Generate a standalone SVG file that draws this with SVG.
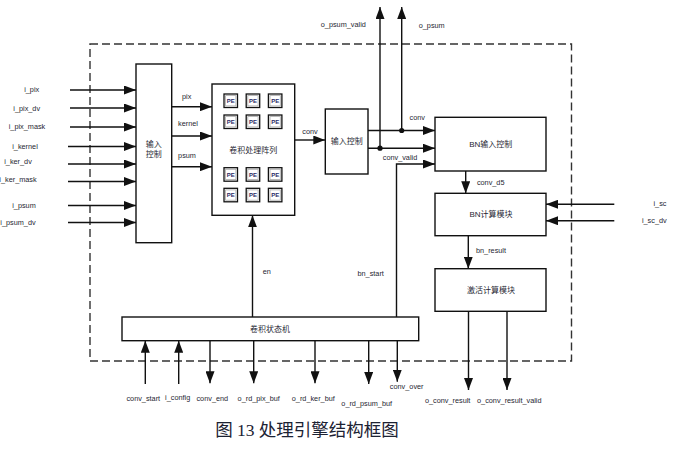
<svg xmlns="http://www.w3.org/2000/svg" width="680" height="450" viewBox="0 0 680 450">
<style>
  text { font-family: "Liberation Sans", "Noto Sans CJK SC", sans-serif; fill: #1f1f33; dominant-baseline: central; text-anchor: middle; }
  .lbl { font-size: 7.3px; }
  .cn { font-size: 8px; }
  .pe { font-size: 6px; font-weight: bold; fill: #2a2a66; }
  .box { fill: #fff; stroke: #111; stroke-width: 1.4; }
  .pebox { fill: #fff; stroke: #111; stroke-width: 1.3; }
  .pein { fill: none; stroke: #aaa; stroke-width: 0.8; }
  .ln { fill: none; stroke: #111; stroke-width: 1.4; }
  .arr { fill: none; stroke: #111; stroke-width: 1.4; marker-end: url(#ah); }
  .dash { fill: none; stroke: #333; stroke-width: 1.4; stroke-dasharray: 8 4; }
  .cap { font-family: "Liberation Serif", "Noto Sans CJK SC", serif; font-size: 17.5px; fill: #1c2233; }
</style>
<defs>
  <marker id="ah" markerUnits="userSpaceOnUse" markerWidth="12" markerHeight="9" refX="12" refY="4.5" orient="auto">
    <path d="M0,0 L12,4.5 L0,9 z" fill="#111"/>
  </marker>
</defs>
<rect width="680" height="450" fill="#fff"/>

<rect class="dash" x="90" y="44" width="481.5" height="317"/>

<g id="connectors">
  <!-- external inputs to input control -->
  <line class="arr" x1="70" y1="90" x2="136" y2="90"/>
  <line class="arr" x1="70" y1="108" x2="136" y2="108"/>
  <line class="arr" x1="70" y1="127" x2="136" y2="127"/>
  <line class="arr" x1="68" y1="146.5" x2="136" y2="146.5"/>
  <line class="arr" x1="68" y1="164" x2="136" y2="164"/>
  <line class="arr" x1="68" y1="181.5" x2="136" y2="181.5"/>
  <line class="arr" x1="68" y1="205.5" x2="136" y2="205.5"/>
  <line class="arr" x1="68" y1="222.5" x2="136" y2="222.5"/>
  <!-- input control to PE array -->
  <line class="arr" x1="171.7" y1="106.7" x2="212" y2="106.7"/>
  <line class="arr" x1="171.7" y1="136" x2="212" y2="136"/>
  <line class="arr" x1="171.7" y1="166.7" x2="212" y2="166.7"/>
  <!-- PE array to box2 -->
  <line class="arr" x1="294.7" y1="140" x2="325.3" y2="140"/>
  <!-- box2 to BN input -->
  <line class="arr" x1="368" y1="130.5" x2="435" y2="130.5"/>
  <line class="arr" x1="368" y1="148.2" x2="435" y2="148.2"/>
  <line class="arr" x1="401.7" y1="130.5" x2="401.7" y2="7"/>
  <line class="arr" x1="380" y1="148.2" x2="380" y2="7"/>
  <circle cx="401.7" cy="130.5" r="2.6" fill="#111"/>
  <circle cx="380" cy="148.2" r="2.6" fill="#111"/>
  <!-- bn_start -->
  <polyline class="arr" points="396.5,317 396.5,164 435,164"/>
  <!-- BN chain -->
  <line class="arr" x1="465.7" y1="171" x2="465.7" y2="193.3"/>
  <line class="arr" x1="468.3" y1="235.7" x2="468.3" y2="268.7"/>
  <line class="arr" x1="614.3" y1="204.3" x2="546" y2="204.3"/>
  <line class="arr" x1="614.3" y1="220.7" x2="546" y2="220.7"/>
  <line class="arr" x1="468.5" y1="311.3" x2="468.5" y2="390"/>
  <line class="arr" x1="507" y1="311.3" x2="507" y2="390"/>
  <!-- en -->
  <line class="arr" x1="252.5" y1="317" x2="252.5" y2="215.3"/>
  <!-- state machine bottom -->
  <line class="arr" x1="145.3" y1="384" x2="145.3" y2="340.7"/>
  <line class="arr" x1="178.7" y1="384" x2="178.7" y2="340.7"/>
  <line class="arr" x1="210" y1="340.7" x2="210" y2="383.3"/>
  <line class="arr" x1="253.7" y1="340.7" x2="253.7" y2="383.3"/>
  <line class="arr" x1="315" y1="340.7" x2="315" y2="383.3"/>
  <line class="arr" x1="368.7" y1="340.7" x2="368.7" y2="384"/>
  <line class="arr" x1="397.3" y1="340.7" x2="397.3" y2="381.7"/>
</g>

<g id="labels">
  <text class="lbl" x="31.7" y="89.3">i_pix</text>
  <text class="lbl" x="26.7" y="108">i_pix_dv</text>
  <text class="lbl" x="27" y="126">i_pix_mask</text>
  <text class="lbl" x="25" y="146">i_kernel</text>
  <text class="lbl" x="18" y="161">i_ker_dv</text>
  <text class="lbl" x="18" y="179">i_ker_mask</text>
  <text class="lbl" x="24" y="205.7">i_psum</text>
  <text class="lbl" x="18" y="222">i_psum_dv</text>
  <text class="lbl" x="186.7" y="96">pix</text>
  <text class="lbl" x="188" y="123">kernel</text>
  <text class="lbl" x="187" y="155">psum</text>
  <text class="lbl" x="310" y="131">conv</text>
  <text class="lbl" x="343.3" y="24.7">o_psum_valid</text>
  <text class="lbl" x="431.7" y="25.7">o_psum</text>
  <text class="lbl" x="417.3" y="117.3">conv</text>
  <text class="lbl" x="400" y="157.3">conv_valid</text>
  <text class="lbl" x="370.7" y="273.3">bn_start</text>
  <text class="lbl" x="490.7" y="182.7">conv_d5</text>
  <text class="lbl" x="491" y="250.7">bn_result</text>
  <text class="lbl" x="660" y="203.3">i_sc</text>
  <text class="lbl" x="654.3" y="220">i_sc_dv</text>
  <text class="lbl" x="266.7" y="271.7">en</text>
  <text class="lbl" x="143.3" y="398.3">conv_start</text>
  <text class="lbl" x="177.7" y="397.3">i_config</text>
  <text class="lbl" x="212.3" y="398.3">conv_end</text>
  <text class="lbl" x="258.7" y="398.3">o_rd_pix_buf</text>
  <text class="lbl" x="313.3" y="398">o_rd_ker_buf</text>
  <text class="lbl" x="366.7" y="403.3">o_rd_psum_buf</text>
  <text class="lbl" x="406.7" y="386.7">conv_over</text>
  <text class="lbl" x="447.7" y="400.7">o_conv_result</text>
  <text class="lbl" x="509.3" y="400.7">o_conv_result_valid</text>
</g>

<g id="input-ctrl">
  <rect class="box" x="136" y="64" width="35.7" height="178.7"/>
  <text class="cn" x="153.7" y="144">输入</text>
  <text class="cn" x="153.7" y="154">控制</text>
</g>

<g id="pe-array">
  <rect class="box" x="212" y="84" width="82.7" height="131.3"/>
  <text class="cn" x="253.3" y="150">卷积处理阵列</text>
</g>

<g id="pe-cells">
  <g id="pe11"><rect class="pebox" x="224" y="94" width="13.5" height="13.5"/><rect class="pein" x="225.6" y="95.6" width="10.3" height="10.3"/><text class="pe" x="230.75" y="100.9">PE</text></g>
  <g id="pe12"><rect class="pebox" x="246.2" y="94" width="13.5" height="13.5"/><rect class="pein" x="247.8" y="95.6" width="10.3" height="10.3"/><text class="pe" x="252.95" y="100.9">PE</text></g>
  <g id="pe13"><rect class="pebox" x="268.4" y="94" width="13.5" height="13.5"/><rect class="pein" x="270" y="95.6" width="10.3" height="10.3"/><text class="pe" x="275.15" y="100.9">PE</text></g>
  <g id="pe21"><rect class="pebox" x="224" y="115" width="13.5" height="13.5"/><rect class="pein" x="225.6" y="116.6" width="10.3" height="10.3"/><text class="pe" x="230.75" y="121.9">PE</text></g>
  <g id="pe22"><rect class="pebox" x="246.2" y="115" width="13.5" height="13.5"/><rect class="pein" x="247.8" y="116.6" width="10.3" height="10.3"/><text class="pe" x="252.95" y="121.9">PE</text></g>
  <g id="pe23"><rect class="pebox" x="268.4" y="115" width="13.5" height="13.5"/><rect class="pein" x="270" y="116.6" width="10.3" height="10.3"/><text class="pe" x="275.15" y="121.9">PE</text></g>
  <g id="pe31"><rect class="pebox" x="224" y="167.7" width="13.5" height="13.5"/><rect class="pein" x="225.6" y="169.3" width="10.3" height="10.3"/><text class="pe" x="230.75" y="174.6">PE</text></g>
  <g id="pe32"><rect class="pebox" x="246.2" y="167.7" width="13.5" height="13.5"/><rect class="pein" x="247.8" y="169.3" width="10.3" height="10.3"/><text class="pe" x="252.95" y="174.6">PE</text></g>
  <g id="pe33"><rect class="pebox" x="268.4" y="167.7" width="13.5" height="13.5"/><rect class="pein" x="270" y="169.3" width="10.3" height="10.3"/><text class="pe" x="275.15" y="174.6">PE</text></g>
  <g id="pe41"><rect class="pebox" x="224" y="188.3" width="13.5" height="13.5"/><rect class="pein" x="225.6" y="189.9" width="10.3" height="10.3"/><text class="pe" x="230.75" y="195.2">PE</text></g>
  <g id="pe42"><rect class="pebox" x="246.2" y="188.3" width="13.5" height="13.5"/><rect class="pein" x="247.8" y="189.9" width="10.3" height="10.3"/><text class="pe" x="252.95" y="195.2">PE</text></g>
  <g id="pe43"><rect class="pebox" x="268.4" y="188.3" width="13.5" height="13.5"/><rect class="pein" x="270" y="189.9" width="10.3" height="10.3"/><text class="pe" x="275.15" y="195.2">PE</text></g>
</g>

<g id="input-ctrl-2">
  <rect class="box" x="325.3" y="109" width="42.7" height="65"/>
  <text class="cn" x="346.7" y="141">输入控制</text>
</g>

<g id="bn-input">
  <rect class="box" x="435" y="117.3" width="111" height="53.7"/>
  <text class="cn" x="490.7" y="144.3">BN输入控制</text>
</g>

<g id="bn-calc">
  <rect class="box" x="435" y="193.3" width="111" height="42.4"/>
  <text class="cn" x="491" y="214.3">BN计算模块</text>
</g>

<g id="act-calc">
  <rect class="box" x="435" y="268.7" width="111" height="42.6"/>
  <text class="cn" x="491" y="290">激活计算模块</text>
</g>

<g id="state-machine">
  <rect class="box" x="122" y="317" width="296.7" height="23.7"/>
  <text class="cn" x="270" y="329.3">卷积状态机</text>
</g>

<text class="cap" x="307" y="430">图 13  处理引擎结构框图</text>
</svg>
